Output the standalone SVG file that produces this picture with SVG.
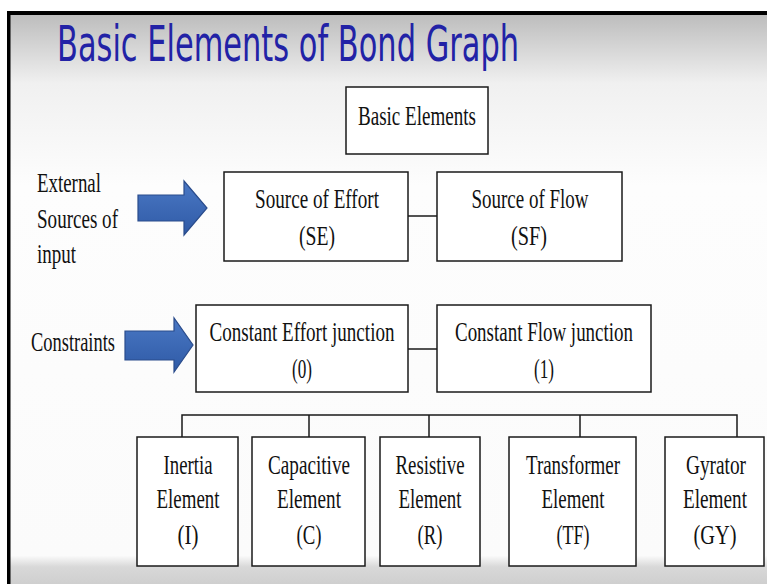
<svg xmlns="http://www.w3.org/2000/svg" width="767" height="584" viewBox="0 0 767 584">
<defs>
<linearGradient id="bg" x1="0" y1="0" x2="0" y2="1">
<stop offset="0" stop-color="#bdbdbd"/>
<stop offset="0.12" stop-color="#f0f0f0"/>
<stop offset="0.3" stop-color="#fdfdfd"/>
<stop offset="0.95" stop-color="#fbfbfb"/>
<stop offset="0.97" stop-color="#d8d8d8"/>
<stop offset="1" stop-color="#cfcfcf"/>
</linearGradient>
<linearGradient id="ar" x1="0" y1="0" x2="0" y2="1">
<stop offset="0" stop-color="#4a78c4"/>
<stop offset="1" stop-color="#2f5aa6"/>
</linearGradient>
<style>
.box{fill:#ffffff;stroke:#1a1a1a;stroke-width:1.5}
.t{font-family:"Liberation Serif","Times New Roman",serif;font-size:28px;fill:#111;text-anchor:middle}
.l{font-family:"Liberation Serif","Times New Roman",serif;font-size:28px;fill:#111}
.c{stroke:#1a1a1a;stroke-width:1.5;fill:none}
.arrow{fill:url(#ar);stroke:#2a4c8c;stroke-width:1.2}
</style>
</defs>
<rect x="0" y="0" width="767" height="584" fill="#ffffff"/>
<rect x="10" y="15" width="757" height="569" fill="url(#bg)"/>
<rect x="7" y="11" width="760" height="4" fill="#000"/>
<rect x="7" y="11" width="3.5" height="573" fill="#000"/>
<text x="57" y="61" font-family="DejaVu Sans, sans-serif" font-size="49" fill="#2222a6" textLength="462" lengthAdjust="spacingAndGlyphs">Basic Elements of Bond Graph</text>

<g id="labels">
<text class="l" x="37" y="192" textLength="64" lengthAdjust="spacingAndGlyphs">External</text>
<text class="l" x="37" y="228" textLength="81" lengthAdjust="spacingAndGlyphs">Sources of</text>
<text class="l" x="37" y="263" textLength="39" lengthAdjust="spacingAndGlyphs">input</text>
<text class="l" x="31" y="351" textLength="84" lengthAdjust="spacingAndGlyphs">Constraints</text>
</g>

<g id="arrow1"><path class="arrow" d="M138,195 L184,195 L184,181 L207,208 L184,235 L184,221 L138,221 Z"/></g>
<g id="arrow2"><path class="arrow" d="M125,331 L174,331 L174,318 L193,345 L174,372 L174,360 L125,360 Z"/></g>

<g id="connectors">
<line class="c" x1="408" y1="216" x2="437" y2="216"/>
<line class="c" x1="408" y1="349" x2="437" y2="349"/>
<polyline class="c" points="182,437 182,415 737,415 737,437"/>
<line class="c" x1="309" y1="415" x2="309" y2="437"/>
<line class="c" x1="429" y1="415" x2="429" y2="437"/>
<line class="c" x1="580" y1="415" x2="580" y2="437"/>
</g>

<g id="basic"><rect class="box" x="346" y="87" width="142" height="67"/>
<text class="t" x="417" y="125" textLength="118" lengthAdjust="spacingAndGlyphs">Basic Elements</text></g>

<g id="se"><rect class="box" x="224" y="172" width="184" height="89"/>
<text class="t" x="317" y="208" textLength="124" lengthAdjust="spacingAndGlyphs">Source of Effort</text>
<text class="t" x="317" y="245" textLength="36" lengthAdjust="spacingAndGlyphs">(SE)</text></g>

<g id="sf"><rect class="box" x="437" y="172" width="185" height="89"/>
<text class="t" x="530" y="208" textLength="117" lengthAdjust="spacingAndGlyphs">Source of Flow</text>
<text class="t" x="529" y="245" textLength="36" lengthAdjust="spacingAndGlyphs">(SF)</text></g>

<g id="ce"><rect class="box" x="196" y="305" width="212" height="87"/>
<text class="t" x="302" y="341" textLength="185" lengthAdjust="spacingAndGlyphs">Constant Effort junction</text>
<text class="t" x="302" y="378" textLength="20" lengthAdjust="spacingAndGlyphs">(0)</text></g>

<g id="cf"><rect class="box" x="437" y="305" width="214" height="87"/>
<text class="t" x="544" y="341" textLength="178" lengthAdjust="spacingAndGlyphs">Constant Flow junction</text>
<text class="t" x="544" y="378" textLength="20" lengthAdjust="spacingAndGlyphs">(1)</text></g>

<g id="inertia"><rect class="box" x="137" y="437" width="101" height="129"/>
<text class="t" x="188" y="474" textLength="49" lengthAdjust="spacingAndGlyphs">Inertia</text>
<text class="t" x="188" y="508" textLength="63" lengthAdjust="spacingAndGlyphs">Element</text>
<text class="t" x="188" y="544" textLength="21" lengthAdjust="spacingAndGlyphs">(I)</text></g>

<g id="capacitive"><rect class="box" x="252" y="437" width="113" height="129"/>
<text class="t" x="309" y="474" textLength="82" lengthAdjust="spacingAndGlyphs">Capacitive</text>
<text class="t" x="309" y="508" textLength="64" lengthAdjust="spacingAndGlyphs">Element</text>
<text class="t" x="309" y="544" textLength="25" lengthAdjust="spacingAndGlyphs">(C)</text></g>

<g id="resistive"><rect class="box" x="380" y="437" width="100" height="129"/>
<text class="t" x="430" y="474" textLength="69" lengthAdjust="spacingAndGlyphs">Resistive</text>
<text class="t" x="430" y="508" textLength="63" lengthAdjust="spacingAndGlyphs">Element</text>
<text class="t" x="430" y="544" textLength="25" lengthAdjust="spacingAndGlyphs">(R)</text></g>

<g id="transformer"><rect class="box" x="509" y="437" width="127" height="129"/>
<text class="t" x="573" y="474" textLength="94" lengthAdjust="spacingAndGlyphs">Transformer</text>
<text class="t" x="573" y="508" textLength="63" lengthAdjust="spacingAndGlyphs">Element</text>
<text class="t" x="573" y="544" textLength="33" lengthAdjust="spacingAndGlyphs">(TF)</text></g>

<g id="gyrator"><rect class="box" x="665" y="437" width="99" height="129"/>
<text class="t" x="716" y="474" textLength="60" lengthAdjust="spacingAndGlyphs">Gyrator</text>
<text class="t" x="715" y="508" textLength="64" lengthAdjust="spacingAndGlyphs">Element</text>
<text class="t" x="715" y="544" textLength="43" lengthAdjust="spacingAndGlyphs">(GY)</text></g>
</svg>
